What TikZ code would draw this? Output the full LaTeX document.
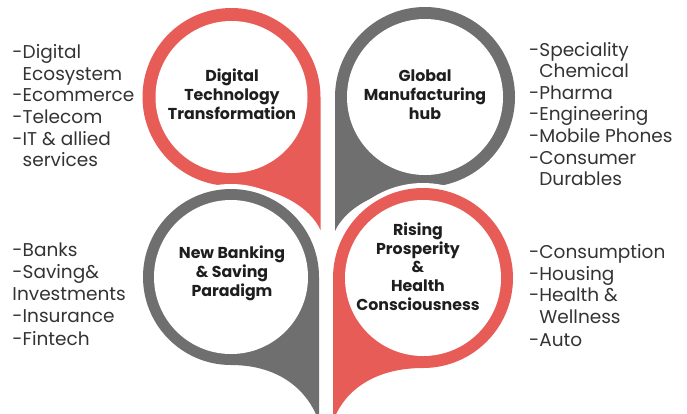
\documentclass[tikz,border=0pt]{standalone}
\usepackage{fontspec}
\setmainfont{Poppins}
\definecolor{tred}{HTML}{E85C58}
\definecolor{tgray}{HTML}{6E6F6E}
\definecolor{ttext}{HTML}{333333}
\definecolor{tlabel}{HTML}{1E1E1E}
\begin{document}
\begin{tikzpicture}[x=1pt,y=-1pt,
  item/.style={anchor=base west, inner sep=0pt, text=ttext, font=\fontsize{18.5}{18.5}\selectfont},
  lbl/.style={anchor=base, inner sep=0pt, text=tlabel, font=\bfseries\fontsize{15.8}{15.8}\selectfont},
  halo/.style={draw=white, line width=10pt}]
\useasboundingbox (0,0) rectangle (687,413);
% top-left (red)
\fill[tred] (320.5,97) arc[start angle=0,end angle=-270,radius=89]
  .. controls +(45,0) and +(-10.5,-23) .. (320.5,230) -- cycle;
\fill[white] (231.5,97) circle[radius=76];
% top-right (gray)
\fill[tgray] (335,97) arc[start angle=180,end angle=450,radius=90]
  .. controls +(-45,0) and +(10.5,-23) .. (335,231) -- cycle;
\fill[white] (425,97) circle[radius=78];
% bottom-left (gray)
\path[halo] (319,277) arc[start angle=0,end angle=-270,radius=88]
  .. controls +(50,0) and +(-10,-30) .. (319,422) -- cycle;
\fill[tgray] (319,277) arc[start angle=0,end angle=-270,radius=88]
  .. controls +(50,0) and +(-10,-30) .. (319,422) -- cycle;
\fill[white] (231,277) circle[radius=77];
% bottom-right (red)
\path[halo] (333,278) arc[start angle=180,end angle=450,radius=90]
  .. controls +(-50,0) and +(10,-30) .. (333,422) -- cycle;
\fill[tred] (333,278) arc[start angle=180,end angle=450,radius=90]
  .. controls +(-50,0) and +(10,-30) .. (333,422) -- cycle;
\fill[white] (423,278) circle[radius=78];
% labels
\node[lbl] (a1) at (232,81.7) {Digital};
\node[lbl] (a2) at (232,100.7) {Technology};
\node[lbl] (a3) at (232,119.5) {Transformation};
\node[lbl] (b1) at (425,81) {Global};
\node[lbl] (b2) at (425,100) {Manufacturing};
\node[lbl] (b3) at (425,119) {hub};
\node[lbl] (c1) at (232,258.3) {New Banking};
\node[lbl] (c2) at (232,277.3) {\& Saving};
\node[lbl] (c3) at (232,296) {Paradigm};
\node[lbl] (d1) at (418,235) {Rising};
\node[lbl] (d2) at (418,254) {Prosperity};
\node[lbl] (d3) at (418,272.7) {\&};
\node[lbl] (d4) at (418,291) {Health};
\node[lbl] (d5) at (418,310) {Consciousness};
% lists
\node[item] (l1) at (12.3,58.3) {-Digital};
\node[item] (l2) at (12.3,80) {\hphantom{-}Ecosystem};
\node[item] (l3) at (12.3,101.7) {-Ecommerce};
\node[item] (l4) at (12.3,123.3) {-Telecom};
\node[item] (l5) at (12.3,145) {-IT \& allied};
\node[item] (l6) at (12.3,166.7) {\hphantom{-}services};
\node[item] (r1) at (529,56) {-Speciality};
\node[item] (r2) at (529,77.7) {\hphantom{-}Chemical};
\node[item] (r3) at (529,99.3) {-Pharma};
\node[item] (r4) at (529,120.7) {-Engineering};
\node[item] (r5) at (529,142.7) {-Mobile Phones};
\node[item] (r6) at (529,164) {-Consumer};
\node[item] (r7) at (529,185.7) {\hphantom{-}Durables};
\node[item] (m1) at (12.3,256.7) {-Banks};
\node[item] (m2) at (12.3,278.3) {-Saving\&};
\node[item] (m3) at (12.3,300.7) {Investments};
\node[item] (m4) at (12.3,322.7) {-Insurance};
\node[item] (m5) at (12.3,345) {-Fintech};
\node[item] (n1) at (529,258.3) {-Consumption};
\node[item] (n2) at (529,280) {-Housing};
\node[item] (n3) at (529,301.7) {-Health \&};
\node[item] (n4) at (529,323.3) {\hphantom{-}Wellness};
\node[item] (n5) at (529,346) {-Auto};
\end{tikzpicture}
\end{document}
